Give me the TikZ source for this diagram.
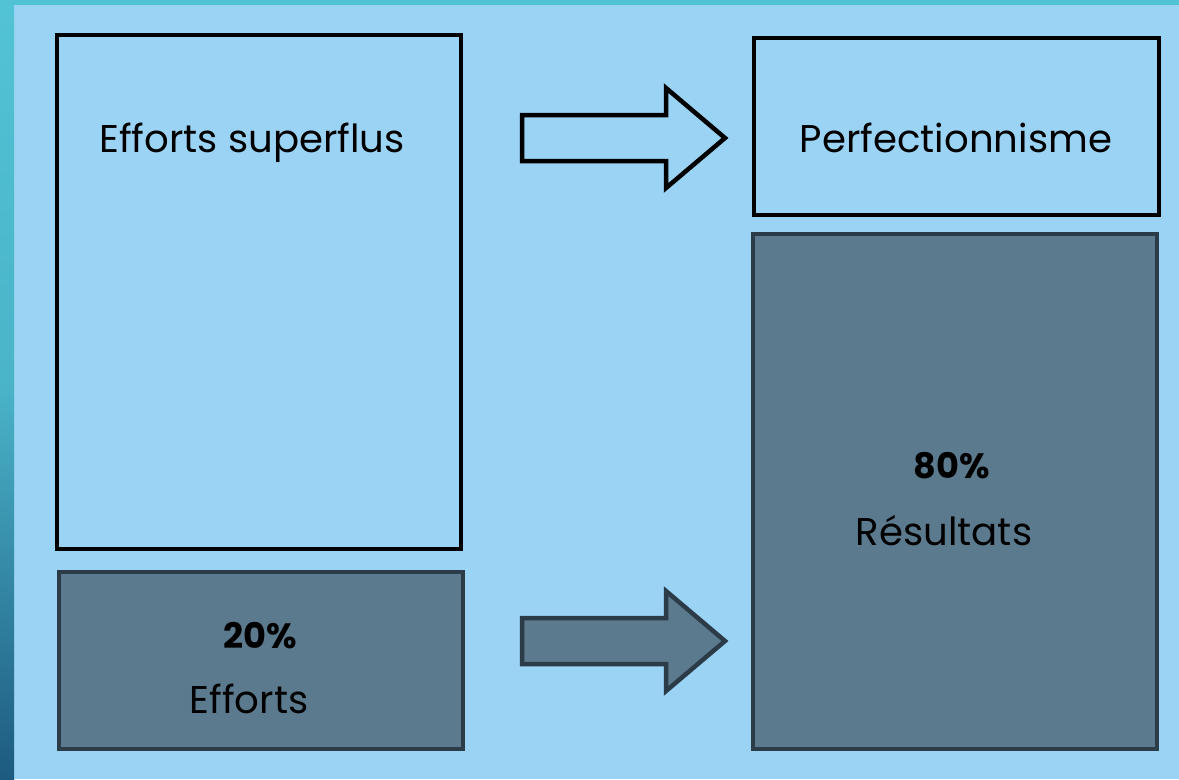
\documentclass[tikz,border=0pt]{standalone}
\usepackage{fontspec}
\setmainfont{Poppins}
\usepackage{tikz}
\usetikzlibrary{positioning}
\definecolor{skyback}{RGB}{155,211,244}
\definecolor{tealedge}{RGB}{82,195,213}
\definecolor{tealdeep}{RGB}{29,90,128}
\definecolor{slatefill}{RGB}{91,122,142}
\definecolor{slateline}{RGB}{44,59,72}

\tikzset{
  box/.style={draw=black, line width=4*0.02cm, minimum width=404*0.02cm,
              inner sep=0pt},
  darkbox/.style={box, draw=slateline, fill=slatefill},
  lbl/.style={anchor=base, font=\fontsize{22}{25}\selectfont},
  pct/.style={anchor=base, font=\fontsize{20}{23}\selectfont\bfseries},
  hollow/.style={draw=black, line width=4.5*0.02cm},
  solid/.style={draw=slateline, fill=slatefill, line width=4.5*0.02cm}
}

\begin{document}
\begin{tikzpicture}[x=0.02cm, y=-0.02cm]
  % backdrop
  \fill[skyback] (0,0) rectangle (1179,779);
  \fill[tealedge] (0,0) rectangle (1179,5);
  \shade[top color=tealedge, bottom color=tealdeep, middle color=tealedge!85!tealdeep]
    (0,0) rectangle (14,779);
  \useasboundingbox (0,0) rectangle (1179,779);

  % left column
  \node[box, minimum height=514*0.02cm] (superflus) at (259,292) {};
  \node[darkbox, minimum height=177*0.02cm] (efforts) at (261,660.5) {};
  % right column
  \node[box, minimum height=177*0.02cm, minimum width=405*0.02cm] (perfect) at (956.5,126.5) {};
  \node[darkbox, minimum height=515*0.02cm] (results) at (955,491.5) {};

  \node[lbl] (superflustxt) at (252,152) {Efforts superflus};
  \node[lbl] (perfecttxt) at (956,152) {Perfectionnisme};
  \node[pct] (effortspct) at (260,648) {20\%};
  \node[lbl] (effortstxt) at (249,713) {Efforts};
  \node[pct] (resultspct) at (952,478) {80\%};
  \node[lbl] (resultstxt) at (944,545) {Résultats};

  % block arrows between the columns
  \foreach \m/\s in {138/hollow, 641/solid}{
    \coordinate (tail) at (522,\m);
    \draw[\s] (tail) ++(0,-23) -- ++(144,0) -- ++(0,-27) -- (725,\m)
      -- (666,\m+50) -- ++(0,-27) -- ++(-144,0) -- cycle;
  }
\end{tikzpicture}
\end{document}
